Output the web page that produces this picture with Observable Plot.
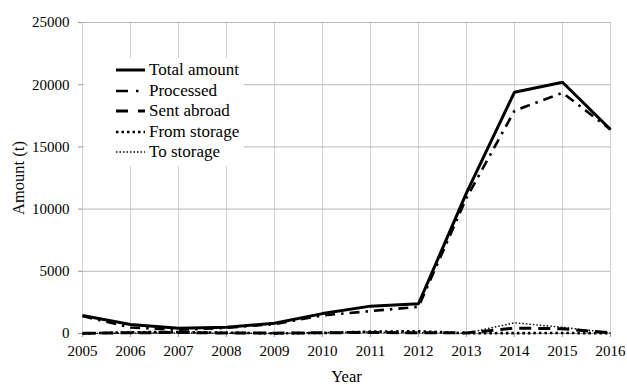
<!DOCTYPE html>
<html>
<head>
<meta charset="utf-8">
<script src="https://cdn.jsdelivr.net/npm/d3@7"></script>
<script src="https://cdn.jsdelivr.net/npm/@observablehq/plot@0.6"></script>
<style>
  html, body { margin: 0; padding: 0; background: #fff; }
  #wrap { position: relative; width: 627px; height: 385px; }
  #wrap svg { display: block; }
  [aria-label="x-axis label"] text, [aria-label="y-axis label"] text { font-size: 16.5px; }
  #legend { position: absolute; left: 84px; top: 58px; width: 160px; height: 108px; background: #fff; }
  #legend .row { position: absolute; left: 65px; height: 20px; line-height: 20px; font-family: "Liberation Serif", "Times New Roman", serif; font-size: 17px; color: #000; white-space: nowrap; }
  #legend svg { position: absolute; left: 32px; }
</style>
</head>
<body>
<div id="wrap"></div>
<script>
// Annual amounts in tonnes, 2005–2016
const years       = [2005, 2006, 2007, 2008, 2009, 2010, 2011, 2012, 2013, 2014, 2015, 2016];
const total       = [1450, 720, 430, 500, 830, 1600, 2200, 2390, 11300, 19400, 20200, 16400];
const processed   = [1400, 480, 300, 450, 760, 1450, 1800, 2150, 10900, 17900, 19350, 16400];
const sentAbroad  = [20, 60, 80, 40, 30, 60, 80, 60, 50, 430, 380, 60];
const fromStorage = [0, 100, 120, 60, 20, 40, 150, 180, 20, 30, 40, 20];
const toStorage   = [0, 30, 50, 20, 10, 80, 100, 60, 30, 860, 500, 50];

const yTicks = [0, 5000, 10000, 15000, 20000, 25000];

const series = [
  {name: "Total amount", values: total,       width: 3,   dash: null,         key: null},
  {name: "Processed",    values: processed,   width: 2.6, dash: "10,6,2.5,6", key: "12,8,2.5,20"},
  {name: "Sent abroad",  values: sentAbroad,  width: 3,   dash: "12,7",       key: "12,10,8"},
  {name: "From storage", values: fromStorage, width: 2.6, dash: "2.5,3",      key: "2.5,3"},
  {name: "To storage",   values: toStorage,   width: 1.4, dash: "1.5,2",      key: "1.5,2"}
];

const rows = series.map(s => years.map((year, i) => ({year, value: s.values[i]})));

const chart = Plot.plot({
  width: 627,
  height: 385,
  marginLeft: 82,
  marginRight: 17,
  marginTop: 22,
  marginBottom: 52,
  style: {fontFamily: "'Liberation Serif', 'Times New Roman', serif", fontSize: "15px", color: "#000", background: "#fff"},
  x: {domain: [2005, 2016]},
  y: {domain: [0, 25000]},
  marks: [
    Plot.gridX(years, {stroke: "#d0d0d0", strokeOpacity: 1, strokeWidth: 1}),
    Plot.gridY(yTicks, {stroke: "#b8b8b8", strokeOpacity: 1, strokeWidth: 1}),
    Plot.axisX(years, {
      tickFormat: d3.format("d"), tickSize: 4, tickPadding: 8, stroke: "#999",
      label: "Year", labelAnchor: "center", labelArrow: false, labelOffset: 48
    }),
    Plot.axisY(yTicks, {
      tickFormat: d3.format("d"), tickSize: 4, tickPadding: 9, stroke: "#999",
      label: "Amount (t)", labelAnchor: "center", labelArrow: false, labelOffset: 70
    }),
    Plot.ruleY([0], {stroke: "#999"}),
    ...series.map((s, k) => Plot.line(rows[k], {
      x: "year", y: "value", stroke: "#000", strokeWidth: s.width,
      strokeDasharray: s.dash, strokeLinecap: "butt", strokeLinejoin: "miter"
    })).reverse()
  ]
});

const wrap = document.getElementById("wrap");
wrap.appendChild(chart);

// Legend box drawn over the upper-left part of the plot area
const legend = document.createElement("div");
legend.id = "legend";
series.forEach((s, i) => {
  const top = 2 + i * 20.6;
  const sample = document.createElementNS("http://www.w3.org/2000/svg", "svg");
  sample.setAttribute("width", 32);
  sample.setAttribute("height", 20);
  sample.style.top = top + "px";
  const ln = document.createElementNS("http://www.w3.org/2000/svg", "line");
  ln.setAttribute("x1", 0); ln.setAttribute("x2", 29);
  ln.setAttribute("y1", 10); ln.setAttribute("y2", 10);
  ln.setAttribute("stroke", "#000");
  ln.setAttribute("stroke-width", s.width);
  if (s.key) ln.setAttribute("stroke-dasharray", s.key);
  sample.appendChild(ln);
  legend.appendChild(sample);
  const label = document.createElement("div");
  label.className = "row";
  label.style.top = top + "px";
  label.textContent = s.name;
  legend.appendChild(label);
});
wrap.appendChild(legend);
</script>
</body>
</html>
